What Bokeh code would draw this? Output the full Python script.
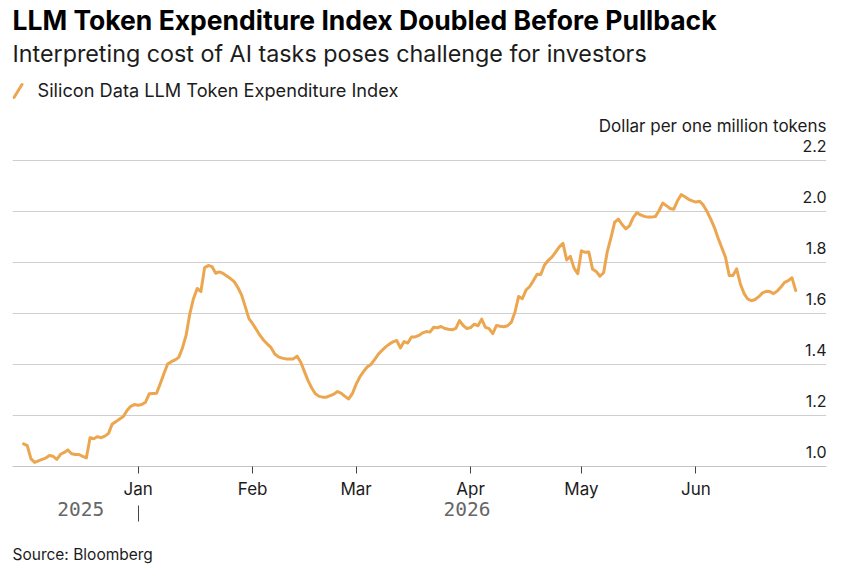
import pandas as pd
from bokeh.core.properties import value
from bokeh.embed import file_html
from bokeh.models import (Arrow, ColumnDataSource, DatetimeAxis, FixedTicker, Label,
                          Legend, LegendItem, Range1d, Title)
from bokeh.plotting import figure
from bokeh.resources import INLINE

# ---------------------------------------------------------------------------
# Data: daily index level, dollars per one million tokens
# ---------------------------------------------------------------------------
series_start = "2025-12-01"

dec_2025 = [1.089, 1.082, 1.030, 1.016, 1.022, 1.028, 1.033, 1.043, 1.040, 1.028,
            1.048, 1.055, 1.065, 1.050, 1.047, 1.047, 1.040, 1.034, 1.113, 1.109,
            1.117, 1.113, 1.119, 1.130, 1.167, 1.176, 1.186, 1.196, 1.220, 1.236,
            1.243]
jan_2026 = [1.240, 1.243, 1.252, 1.285, 1.286, 1.287, 1.325, 1.365, 1.402, 1.411,
            1.418, 1.428, 1.465, 1.515, 1.599, 1.659, 1.698, 1.686, 1.780, 1.788,
            1.784, 1.758, 1.763, 1.757, 1.747, 1.737, 1.725, 1.702, 1.673, 1.627,
            1.580]
feb_2026 = [1.560, 1.537, 1.514, 1.495, 1.480, 1.466, 1.441, 1.430, 1.425, 1.422,
            1.422, 1.422, 1.433, 1.410, 1.373, 1.337, 1.308, 1.285, 1.275, 1.272,
            1.272, 1.278, 1.284, 1.294, 1.287, 1.275, 1.265, 1.286]
mar_2026 = [1.322, 1.351, 1.372, 1.390, 1.400, 1.419, 1.440, 1.455, 1.469, 1.480,
            1.489, 1.494, 1.465, 1.490, 1.484, 1.508, 1.508, 1.514, 1.524, 1.529,
            1.527, 1.546, 1.544, 1.549, 1.541, 1.538, 1.536, 1.542, 1.572, 1.553,
            1.541]
apr_2026 = [1.545, 1.558, 1.552, 1.578, 1.546, 1.541, 1.521, 1.553, 1.550, 1.548,
            1.552, 1.565, 1.605, 1.667, 1.658, 1.692, 1.706, 1.729, 1.754, 1.753,
            1.790, 1.808, 1.821, 1.841, 1.861, 1.875, 1.810, 1.824, 1.778, 1.756]
may_2026 = [1.846, 1.840, 1.841, 1.774, 1.765, 1.746, 1.760, 1.843, 1.898, 1.958,
            1.970, 1.949, 1.932, 1.944, 1.976, 1.995, 1.987, 1.981, 1.978, 1.978,
            1.980, 2.003, 2.033, 2.023, 2.012, 2.009, 2.042, 2.066, 2.058, 2.048,
            2.042]
jun_2026 = [2.037, 2.040, 2.025, 2.000, 1.970, 1.937, 1.895, 1.858, 1.820, 1.749,
            1.749, 1.775, 1.717, 1.679, 1.657, 1.650, 1.655, 1.666, 1.681, 1.687,
            1.686, 1.678, 1.688, 1.704, 1.722, 1.729, 1.740, 1.690]

index_values = dec_2025 + jan_2026 + feb_2026 + mar_2026 + apr_2026 + may_2026 + jun_2026
dates = pd.date_range(series_start, periods=len(index_values), freq="D")

month_ticks = pd.to_datetime(["2026-01-01", "2026-02-01", "2026-03-01",
                              "2026-04-01", "2026-05-01", "2026-06-01"])
month_labels = ["Jan", "Feb", "Mar", "Apr", "May", "Jun"]

y_ticks = [1.0, 1.2, 1.4, 1.6, 1.8, 2.0, 2.2]
y_labels = ["1.0", "1.2", "1.4", "1.6", "1.8", "2.0", "2.2"]

year_break = pd.Timestamp("2026-01-01")
year_labels = ["2025", "2026"]

# ---------------------------------------------------------------------------
# Styling
# ---------------------------------------------------------------------------
FONT = "Inter"
ORANGE = "#eca64f"
INK = "#1c1c1c"
GRID = "#cfcfcf"
FRAME_H = 466  # frame spans the canvas from the top down to the date axis


def ms(ts):
    return ts.value / 1e6


x_start = pd.Timestamp("2025-11-28 00:00")
x_end = pd.Timestamp("2026-07-06 08:00")

p = figure(width=842, height=572, x_axis_type="datetime", y_axis_location=None,
           x_range=Range1d(ms(x_start), ms(x_end)), y_range=Range1d(1.0, 2.8275),
           output_backend="svg", toolbar_location=None,
           min_border_left=12, min_border_right=16, min_border_top=0,
           min_border_bottom=572 - FRAME_H)
p.outline_line_color = None
p.background_fill_color = "white"
p.border_fill_color = "white"
p.xgrid.visible = False
p.ygrid.ticker = FixedTicker(ticks=y_ticks)
p.ygrid.grid_line_color = GRID
p.ygrid.grid_line_width = 1

# the index line
src = ColumnDataSource(dict(date=dates, value=index_values))
line = p.line("date", "value", source=src, line_color=ORANGE, line_width=3,
              line_join="round", line_cap="round")

# value labels sitting on top of the grid lines at the right edge
tick_src = ColumnDataSource(dict(x=[ms(x_end)] * len(y_ticks), y=y_ticks, text=y_labels))
p.text("x", "y", text="text", source=tick_src, text_font=value(FONT),
       text_font_size="16px", text_color=INK, text_align="right",
       text_baseline="middle", y_offset=-15)

# month axis
xa = p.xaxis[0]
xa.ticker = FixedTicker(ticks=[ms(t) for t in month_ticks], minor_ticks=[])
xa.major_label_overrides = {ms(t): lab for t, lab in zip(month_ticks, month_labels)}
xa.axis_line_color = "#c4c4c4"
xa.major_tick_line_color = "#444444"
xa.major_tick_in = 0
xa.major_tick_out = 7
xa.minor_tick_line_color = None
xa.major_label_standoff = 5
xa.major_label_text_font = FONT
xa.major_label_text_font_size = "17px"
xa.major_label_text_color = INK

# year axis: each year centred on its span, a bar at the turn of the year
mid_2025 = dates[0] + (year_break - dates[0]) / 2
mid_2026 = year_break + (dates[-1] - year_break) / 2
year_axis = DatetimeAxis(
    ticker=FixedTicker(ticks=[ms(mid_2025), ms(mid_2026)], minor_ticks=[ms(year_break)]),
    major_label_overrides={ms(mid_2025): year_labels[0], ms(mid_2026): year_labels[1]},
    axis_line_color=None, major_tick_line_color=None,
    minor_tick_line_color="#444444", minor_tick_in=-4, minor_tick_out=20,
    major_label_standoff=-20, major_label_text_font="DejaVu Sans Mono",
    major_label_text_font_size="19.5px", major_label_text_color="#666666")
p.add_layout(year_axis, "below")

# source line, set one blank line below the year row
p.add_layout(Title(text="\nSource: Bloomberg", align="left", text_font=FONT,
                   text_font_size="15.5px", text_font_style="normal",
                   text_color=INK, standoff=10), "below")


def header(text, x, y_canvas, size, style="normal", align="left", color=INK):
    return Label(x=x, y=FRAME_H - y_canvas, x_units="screen", y_units="screen",
                 text=text, text_font=FONT, text_font_size=size,
                 text_font_style=style, text_color=color, text_align=align,
                 text_baseline="middle")


p.add_layout(header("LLM Token Expenditure Index Doubled Before Pullback", 0, 19,
                    "26.5px", style="bold", color="#000000"))
p.add_layout(header("Interpreting cost of AI tasks poses challenge for investors", 0, 53,
                    "23.3px"))
p.add_layout(header("Dollar per one million tokens", 814, 125, "17px", align="right"))

# legend: the entry's label, with a slanted orange stroke as its key
key = p.scatter(x=[dates[0]], y=[float("nan")], marker="dash", size=14,
                line_color=ORANGE, line_alpha=0)
legend = Legend(items=[LegendItem(label="Silicon Data LLM Token Expenditure Index",
                                  renderers=[key])],
                location=(-13.5, FRAME_H - 90 - 17.5), glyph_width=35, glyph_height=35,
                label_height=20, label_standoff=4, padding=0, margin=0, spacing=0,
                border_line_color=None, background_fill_alpha=0,
                label_text_font=FONT, label_text_font_size="18.2px",
                label_text_color=INK)
p.add_layout(legend)
p.add_layout(Arrow(start=None, end=None, x_start=1.5, y_start=FRAME_H - 97,
                   x_end=9.5, y_end=FRAME_H - 84, start_units="screen",
                   end_units="screen", line_color=ORANGE, line_width=3,
                   line_cap="round"))

open("out.html", "w").write(file_html(p, INLINE))
